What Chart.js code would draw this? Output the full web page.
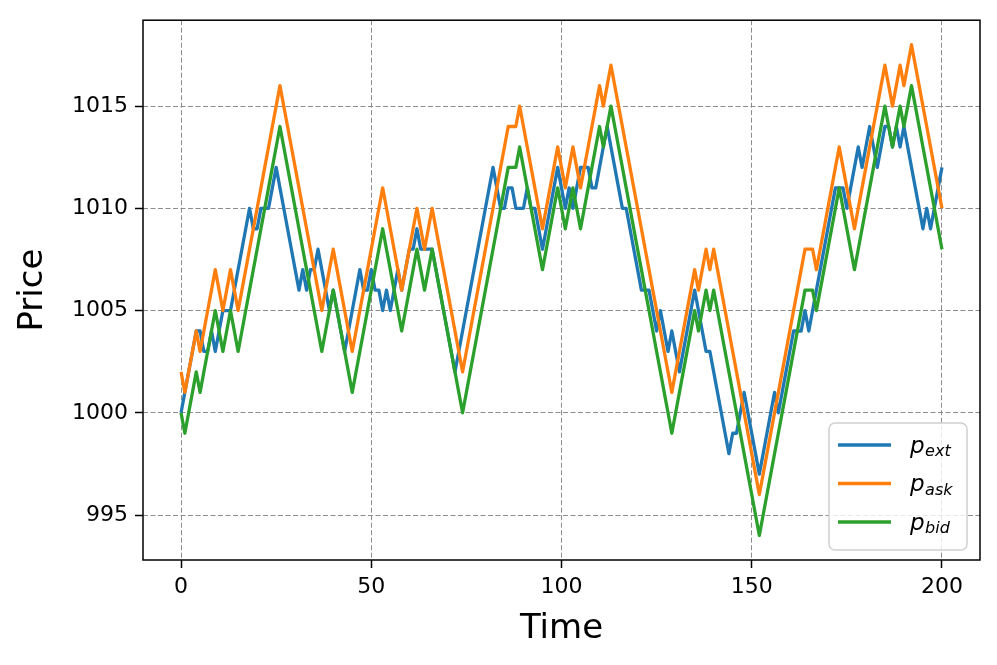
<!DOCTYPE html>
<html>
<head>
<meta charset="utf-8">
<script src="https://cdn.jsdelivr.net/npm/chart.js@4.4.0/dist/chart.umd.min.js"></script>
<style>
  html, body { margin: 0; padding: 0; background: #fff; }
  canvas { display: block; }
</style>
</head>
<body>
<canvas id="chart" width="997" height="665"></canvas>
<script>
// price paths, one value per time step (t = 0 .. 200)
const pExt = [
  1000, 1001, 1002, 1003, 1004, 1004, 1003, 1003, 1004, 1003,
  1004, 1005, 1005, 1005, 1006, 1007, 1008, 1009, 1010, 1009,
  1009, 1010, 1010, 1010, 1011, 1012, 1011, 1010, 1009, 1008,
  1007, 1006, 1007, 1006, 1007, 1007, 1008, 1007, 1006, 1005,
  1006, 1005, 1004, 1003, 1004, 1005, 1006, 1007, 1006, 1006,
  1007, 1006, 1006, 1005, 1006, 1005, 1006, 1007, 1006, 1007,
  1008, 1008, 1009, 1008, 1008, 1008, 1008, 1007, 1006, 1005,
  1004, 1003, 1002, 1003, 1004, 1005, 1006, 1007, 1008, 1009,
  1010, 1011, 1012, 1011, 1010, 1010, 1011, 1011, 1010, 1010,
  1010, 1011, 1010, 1010, 1009, 1008, 1009, 1010, 1011, 1012,
  1011, 1010, 1011, 1010, 1011, 1012, 1012, 1012, 1011, 1011,
  1012, 1013, 1014, 1013, 1012, 1011, 1010, 1010, 1009, 1008,
  1007, 1006, 1006, 1006, 1005, 1004, 1005, 1004, 1003, 1004,
  1003, 1002, 1003, 1004, 1005, 1006, 1005, 1004, 1003, 1003,
  1002, 1001, 1000, 999, 998, 999, 999, 1000, 1001, 1000,
  999, 998, 997, 998, 999, 1000, 1001, 1000, 1001, 1002,
  1003, 1004, 1004, 1004, 1005, 1004, 1005, 1006, 1007, 1008,
  1009, 1010, 1011, 1011, 1011, 1010, 1011, 1012, 1013, 1012,
  1013, 1014, 1013, 1012, 1013, 1014, 1014, 1013, 1014, 1013,
  1014, 1013, 1012, 1011, 1010, 1009, 1010, 1009, 1010, 1011,
  1012
];
const pAsk = [
  1002, 1001, 1002, 1003, 1004, 1003, 1004, 1005, 1006, 1007,
  1006, 1005, 1006, 1007, 1006, 1005, 1006, 1007, 1008, 1009,
  1010, 1011, 1012, 1013, 1014, 1015, 1016, 1015, 1014, 1013,
  1012, 1011, 1010, 1009, 1008, 1007, 1006, 1005, 1006, 1007,
  1008, 1007, 1006, 1005, 1004, 1003, 1004, 1005, 1006, 1007,
  1008, 1009, 1010, 1011, 1010, 1009, 1008, 1007, 1006, 1007,
  1008, 1009, 1010, 1009, 1008, 1009, 1010, 1009, 1008, 1007,
  1006, 1005, 1004, 1003, 1002, 1003, 1004, 1005, 1006, 1007,
  1008, 1009, 1010, 1011, 1012, 1013, 1014, 1014, 1014, 1015,
  1014, 1013, 1012, 1011, 1010, 1009, 1010, 1011, 1012, 1013,
  1012, 1011, 1012, 1013, 1012, 1011, 1012, 1013, 1014, 1015,
  1016, 1015, 1016, 1017, 1016, 1015, 1014, 1013, 1012, 1011,
  1010, 1009, 1008, 1007, 1006, 1005, 1004, 1003, 1002, 1001,
  1002, 1003, 1004, 1005, 1006, 1007, 1006, 1007, 1008, 1007,
  1008, 1007, 1006, 1005, 1004, 1003, 1002, 1001, 1000, 999,
  998, 997, 996, 997, 998, 999, 1000, 1001, 1002, 1003,
  1004, 1005, 1006, 1007, 1008, 1008, 1008, 1007, 1008, 1009,
  1010, 1011, 1012, 1013, 1012, 1011, 1010, 1009, 1010, 1011,
  1012, 1013, 1014, 1015, 1016, 1017, 1016, 1015, 1016, 1017,
  1016, 1017, 1018, 1017, 1016, 1015, 1014, 1013, 1012, 1011,
  1010
];
const pBid = [
  1000, 999, 1000, 1001, 1002, 1001, 1002, 1003, 1004, 1005,
  1004, 1003, 1004, 1005, 1004, 1003, 1004, 1005, 1006, 1007,
  1008, 1009, 1010, 1011, 1012, 1013, 1014, 1013, 1012, 1011,
  1010, 1009, 1008, 1007, 1006, 1005, 1004, 1003, 1004, 1005,
  1006, 1005, 1004, 1003, 1002, 1001, 1002, 1003, 1004, 1005,
  1006, 1007, 1008, 1009, 1008, 1007, 1006, 1005, 1004, 1005,
  1006, 1007, 1008, 1007, 1006, 1007, 1008, 1007, 1006, 1005,
  1004, 1003, 1002, 1001, 1000, 1001, 1002, 1003, 1004, 1005,
  1006, 1007, 1008, 1009, 1010, 1011, 1012, 1012, 1012, 1013,
  1012, 1011, 1010, 1009, 1008, 1007, 1008, 1009, 1010, 1011,
  1010, 1009, 1010, 1011, 1010, 1009, 1010, 1011, 1012, 1013,
  1014, 1013, 1014, 1015, 1014, 1013, 1012, 1011, 1010, 1009,
  1008, 1007, 1006, 1005, 1004, 1003, 1002, 1001, 1000, 999,
  1000, 1001, 1002, 1003, 1004, 1005, 1004, 1005, 1006, 1005,
  1006, 1005, 1004, 1003, 1002, 1001, 1000, 999, 998, 997,
  996, 995, 994, 995, 996, 997, 998, 999, 1000, 1001,
  1002, 1003, 1004, 1005, 1006, 1006, 1006, 1005, 1006, 1007,
  1008, 1009, 1010, 1011, 1010, 1009, 1008, 1007, 1008, 1009,
  1010, 1011, 1012, 1013, 1014, 1015, 1014, 1013, 1014, 1015,
  1014, 1015, 1016, 1015, 1014, 1013, 1012, 1011, 1010, 1009,
  1008
];

const seriesSub = ["ext", "ask", "bid"];
const seriesColors = ["#1f77b4", "#ff7f0e", "#2ca02c"];
const xTicks = [0, 50, 100, 150, 200];
const yTicks = [995, 1000, 1005, 1010, 1015];

const FONT = "'DejaVu Sans', sans-serif";

function toPoints(arr) {
    return arr.map((v, i) => ({ x: i, y: v }));
}

// matplotlib style frame round the plot area
const framePlugin = {
    id: "frame",
    afterDatasetsDraw(chart) {
        const { ctx, chartArea: a } = chart;
        ctx.save();
        ctx.strokeStyle = "#000";
        ctx.lineWidth = 1.5;
        ctx.strokeRect(a.left, a.top, a.right - a.left, a.bottom - a.top);
        ctx.restore();
    },
};

// legend with p and an italic subscript, like mathtext
const mathLegend = {
    id: "mathLegend",
    afterDraw(chart) {
        const { ctx, chartArea: a } = chart;
        const w = 138, h = 127, r = 6;
        const x0 = a.right - 13 - w;
        const y0 = a.bottom - 10 - h;
        ctx.save();
        ctx.beginPath();
        ctx.moveTo(x0 + r, y0);
        ctx.arcTo(x0 + w, y0, x0 + w, y0 + h, r);
        ctx.arcTo(x0 + w, y0 + h, x0, y0 + h, r);
        ctx.arcTo(x0, y0 + h, x0, y0, r);
        ctx.arcTo(x0, y0, x0 + w, y0, r);
        ctx.closePath();
        ctx.fillStyle = "rgba(255,255,255,0.8)";
        ctx.fill();
        ctx.strokeStyle = "#d0d0d0";
        ctx.lineWidth = 1.5;
        ctx.stroke();

        seriesSub.forEach((sub, i) => {
            const cy = y0 + 22 + i * 38.5;
            ctx.strokeStyle = seriesColors[i];
            ctx.lineWidth = 3.3;
            ctx.beginPath();
            ctx.moveTo(x0 + 9, cy);
            ctx.lineTo(x0 + 62, cy);
            ctx.stroke();

            ctx.fillStyle = "#000";
            ctx.textAlign = "left";
            ctx.textBaseline = "alphabetic";
            ctx.font = "italic 23px " + FONT;
            const tx = x0 + 81;
            ctx.fillText("p", tx, cy + 7.5);
            const pw = ctx.measureText("p").width;
            ctx.font = "italic 16px " + FONT;
            ctx.fillText(sub, tx + pw + 0.5, cy + 11);
        });
        ctx.restore();
    },
};

const gridOpts = {
    color: "#8c8c8c",
    lineWidth: 1,
    tickColor: "#000",
    tickLength: 8,
    tickWidth: 1.5,
    tickBorderDash: [],
};

new Chart(document.getElementById("chart"), {
    type: "line",
    data: {
        datasets: [
            { label: "p_ext", data: toPoints(pExt), borderColor: seriesColors[0], order: 3 },
            { label: "p_ask", data: toPoints(pAsk), borderColor: seriesColors[1], order: 2 },
            { label: "p_bid", data: toPoints(pBid), borderColor: seriesColors[2], order: 1 },
        ],
    },
    options: {
        responsive: false,
        animation: false,
        devicePixelRatio: 1,
        layout: { padding: { left: 0, right: 17, top: 18, bottom: 0 } },
        elements: {
            point: { radius: 0 },
            line: { borderWidth: 3.3, tension: 0, borderJoinStyle: "round", borderCapStyle: "butt", fill: false },
        },
        plugins: { legend: { display: false }, tooltip: { enabled: false } },
        scales: {
            x: {
                type: "linear",
                min: -10,
                max: 210,
                afterBuildTicks: (s) => { s.ticks = xTicks.map((v) => ({ value: v })); },
                afterFit: (s) => { s.height = 105; },
                grid: gridOpts,
                border: { display: false, dash: [5, 2.5] },
                ticks: {
                    color: "#000",
                    font: { family: FONT, size: 22 },
                    padding: 6,
                    maxRotation: 0,
                    autoSkip: false,
                    callback: (v) => String(v),
                },
                title: {
                    display: true,
                    text: "Time",
                    color: "#000",
                    font: { family: FONT, size: 34 },
                    padding: { top: 0, bottom: 15 },
                },
            },
            y: {
                type: "linear",
                min: 992.8,
                max: 1019.2,
                afterBuildTicks: (s) => { s.ticks = yTicks.map((v) => ({ value: v })); },
                afterFit: (s) => { s.width = 143; },
                grid: gridOpts,
                border: { display: false, dash: [5, 2.5] },
                ticks: {
                    color: "#000",
                    font: { family: FONT, size: 22 },
                    padding: 7,
                    autoSkip: false,
                    callback: (v) => String(v),
                },
                title: {
                    display: true,
                    text: "Price",
                    color: "#000",
                    font: { family: FONT, size: 34 },
                    padding: { top: 13, bottom: 0 },
                },
            },
        },
    },
    plugins: [framePlugin, mathLegend],
});
</script>
</body>
</html>
